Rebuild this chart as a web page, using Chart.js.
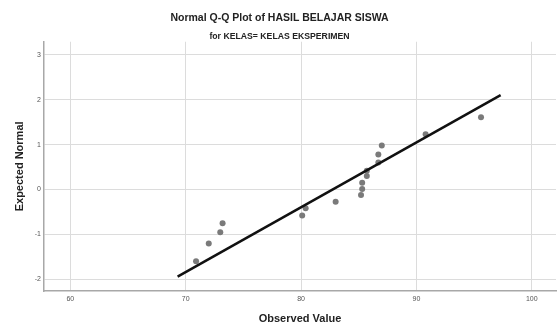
<!DOCTYPE html>
<html>
<head>
<meta charset="utf-8">
<script src="https://cdn.jsdelivr.net/npm/chart.js@4.4.1/dist/chart.umd.min.js"></script>
<style>
  html, body { margin: 0; padding: 0; background: #ffffff; }
  #wrap { width: 559px; height: 324px; position: relative; }
</style>
</head>
<body>
<div id="wrap"><canvas id="c"></canvas></div>
<script>
// Observed values (x) and expected normal quantiles (y)
const observedValues = [70.9, 72.0, 73.0, 73.2, 80.1, 80.4, 83.0, 85.2, 85.3, 85.3, 85.7, 85.7, 86.7, 86.7, 87.0, 90.8, 95.6];
const expectedNormal = [-1.60, -1.20, -0.95, -0.75, -0.58, -0.42, -0.27, -0.12, 0.01, 0.15, 0.30, 0.42, 0.60, 0.78, 0.98, 1.23, 1.61];
// Reference line end points
const lineX = [69.3, 97.3];
const lineY = [-1.94, 2.10];
const xTicks = [60, 70, 80, 90, 100];
const yTicks = [-2, -1, 0, 1, 2, 3];

const points = observedValues.map((v, i) => ({ x: v, y: expectedNormal[i] }));
const refLine = lineX.map((v, i) => ({ x: v, y: lineY[i] }));

const tickFont = { family: 'Liberation Sans, Arial, sans-serif', size: 7 };
const titleFont = { family: 'Liberation Sans, Arial, sans-serif', size: 11, weight: 'bold', lineHeight: 1 };

new Chart(document.getElementById('c'), {
  type: 'scatter',
  data: {
    datasets: [
      {
        label: 'Observed',
        data: points,
        backgroundColor: '#7a7a7a',
        borderColor: '#7a7a7a',
        pointRadius: 3,
        pointHoverRadius: 3,
        borderWidth: 0,
        order: 1
      },
      {
        label: 'Line',
        type: 'line',
        data: refLine,
        borderColor: '#111111',
        borderWidth: 2.5,
        pointRadius: 0,
        fill: false,
        order: 0
      }
    ]
  },
  options: {
    responsive: true,
    maintainAspectRatio: false,
    animation: false,
    layout: { padding: 0 },
    plugins: {
      legend: { display: false },
      tooltip: { enabled: false },
      title: {
        display: true,
        text: 'Normal Q-Q Plot of HASIL BELAJAR SISWA',
        color: '#222222',
        font: { family: 'Liberation Sans, Arial, sans-serif', size: 10.5, weight: 'bold', lineHeight: 1.2 },
        padding: { top: 11.5, bottom: 2 }
      },
      subtitle: {
        display: true,
        text: 'for KELAS= KELAS EKSPERIMEN',
        color: '#222222',
        font: { family: 'Liberation Sans Narrow, Arial Narrow, Liberation Sans, sans-serif', size: 8.7, weight: 'bold', lineHeight: 1.2 },
        padding: { top: 5, bottom: 0.2 }
      }
    },
    scales: {
      x: {
        type: 'linear',
        min: 57.72,
        max: 102.1,
        afterFit: (s) => { s.height = 33; },
        afterBuildTicks: (s) => { s.ticks = xTicks.map(v => ({ value: v })); },
        ticks: { font: tickFont, color: '#555555', padding: 4, includeBounds: false },
        grid: { color: '#dcdcdc', lineWidth: 1, drawTicks: false },
        border: { color: '#a8a8a8', width: 1.5 },
        title: { display: true, text: 'Observed Value', color: '#222222', font: titleFont, padding: { top: 0, bottom: 0 } }
      },
      y: {
        type: 'linear',
        min: -2.26,
        max: 3.29,
        afterFit: (s) => { s.width = 44; },
        afterBuildTicks: (s) => { s.ticks = yTicks.map(v => ({ value: v })); },
        ticks: { font: tickFont, color: '#555555', padding: 3, includeBounds: false },
        grid: { color: '#dcdcdc', lineWidth: 1, drawTicks: false },
        border: { color: '#a8a8a8', width: 1.5 },
        title: { display: true, text: 'Expected Normal', color: '#222222', font: titleFont, padding: { top: 14, bottom: 0 } }
      }
    }
  }
});
</script>
</body>
</html>
